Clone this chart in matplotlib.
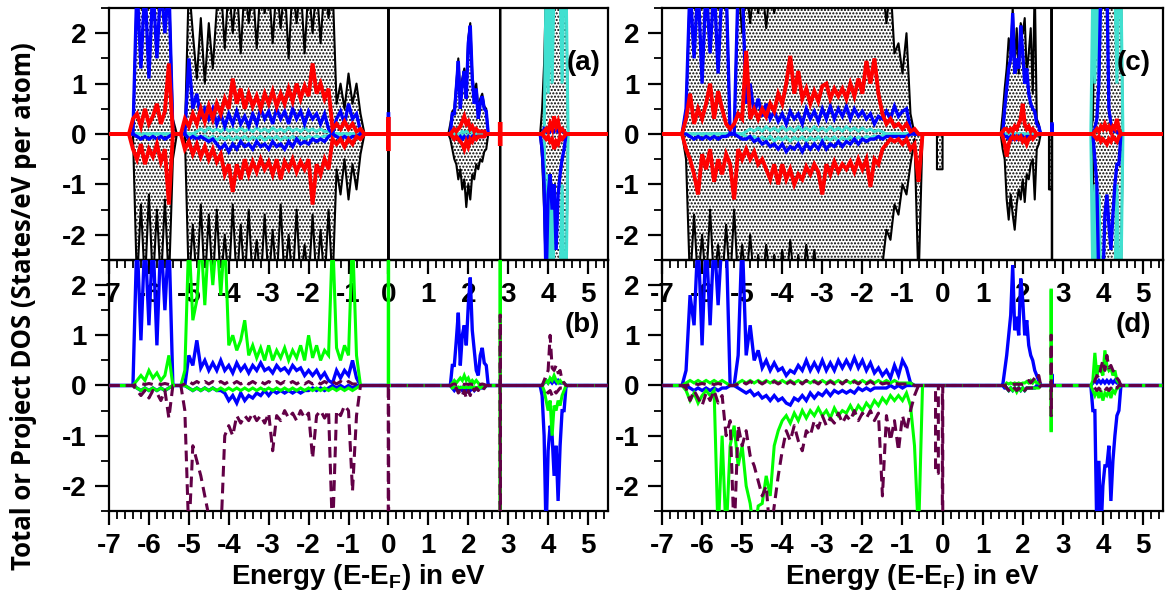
import numpy as np
import matplotlib
matplotlib.use("Agg")
import matplotlib.pyplot as plt
from matplotlib.ticker import MultipleLocator

plt.rcParams['font.family'] = ['Liberation Sans', 'DejaVu Sans']
plt.rcParams['font.weight'] = 'bold'
plt.rcParams['axes.unicode_minus'] = False
plt.rcParams['mathtext.default'] = 'regular'
plt.rcParams['hatch.linewidth'] = 1.0

# Energy sampling windows (eV, relative to E_F)
E_VAL = np.round(np.linspace(-6.5, -0.5, 61), 3)
E_MID = np.round(np.linspace(1.4, 2.6, 25), 3)
E_HI = np.round(np.linspace(3.7, 4.5, 17), 3)
E_GRID = np.concatenate([[-7.0], E_VAL, E_MID, E_HI, [5.5]])

# ---------------- panel (a): total / projected DOS, case 1 ----------------
a_total_up = [
    0, 0, 3, 3, 3, 3, 3, 3, 3, 3,
    3, 0.3, 0, 0, 0, 3, 2.0, 1.1, 2.3, 1.0,
    2.2, 1.3, 2.5, 3, 1.7, 3, 2.0, 3, 1.6, 3,
    2.2, 3, 1.7, 3, 2.4, 3, 1.8, 3, 2.1, 3,
    1.5, 3, 2.2, 3, 1.6, 3, 2.0, 3, 1.8, 3,
    2.3, 3, 0.6, 1.0, 0.5, 1.2, 0.6, 1.0, 0.4, 0,
    0,
    0, 0, 0, 0.2, 0.45, 0.5, 1.0, 1.5, 0.8, 1.1,
    1.3, 1.0, 1.9, 2.2, 1.2, 0.8, 1.0, 0.5, 0.7, 0.8,
    0.55, 0.5, 0, 0, 0,
    0, 0, 0, 0.5, 1.4, 3, 3, 3, 3, 3, 3, 3, 3, 3, 3, 3, 0,
]
a_total_dn = [
    0, 0, -3, -1.4, -3, -1.2, -3, -1.5, -3, -1.3,
    -3, -0.5, 0, 0, 0, -3, -1.8, -3, -1.4, -3,
    -1.6, -3, -1.5, -3, -2.0, -3, -1.4, -3, -1.8, -3,
    -1.5, -3, -2.1, -3, -1.6, -3, -1.9, -3, -1.4, -3,
    -2.0, -3, -1.5, -3, -2.2, -3, -1.6, -3, -1.9, -3,
    -1.5, -3, -0.7, -1.2, -0.5, -1.3, -0.6, -1.1, -0.4, 0,
    0,
    0, 0, 0, -0.1, -0.3, -0.5, -0.6, -0.9, -0.7, -1.1,
    -0.9, -1.45, -1.0, -1.3, -0.8, -0.9, -0.6, -0.7, -0.5, -0.55,
    -0.35, -0.3, 0, 0, 0,
    0, 0, 0, -0.5, -1.5, -3, -3, -3, -3, -3, -3, -3, -3, -3, -3, -3, 0,
]
a_blue_up = [
    0, 0, 3, 1.3, 3, 1.1, 3, 1.5, 3, 2.0,
    3, 0, 0, 0, 0, 1.5, 0.5, 0.8, 0.3, 0.5,
    0.3, 0.5, 0.2, 0.4, 0.15, 0.4, 0.2, 0.45, 0.2, 0.35,
    0.15, 0.4, 0.2, 0.5, 0.3, 0.45, 0.2, 0.5, 0.3, 0.45,
    0.2, 0.5, 0.3, 0.45, 0.2, 0.45, 0.3, 0.4, 0.2, 0.4,
    0.1, 0, 0.3, 0.45, 0.2, 0.6, 0.3, 0.4, 0.05, 0,
    0,
    0, 0, 0, 0, 0.4, 0.4, 0.9, 1.45, 0.5, 1.0,
    1.25, 0.7, 1.8, 2.15, 1.1, 0.6, 0.9, 0.3, 0.6, 0.75,
    0.5, 0.45, 0, 0, 0,
    0, 0, 0, 0, 0.1, 0.05, 0.1, 0.05, 0.1, 0.05, 0.1, 0.05, 0.1, 0.05, 0.05, 0, 0,
]
a_blue_dn = [
    0, 0, -0.05, -0.1, -0.05, -0.1, -0.05, -0.1, -0.05, -0.1,
    -0.05, 0, 0, 0, 0, -0.1, -0.05, -0.1, -0.05, -0.1,
    -0.15, -0.1, -0.2, -0.3, -0.2, -0.35, -0.2, -0.3, -0.15, -0.25,
    -0.2, -0.3, -0.15, -0.25, -0.2, -0.3, -0.15, -0.25, -0.2, -0.3,
    -0.15, -0.25, -0.1, -0.2, -0.15, -0.2, -0.1, -0.15, -0.1, -0.15,
    -0.05, 0, -0.05, -0.1, -0.05, -0.1, -0.05, -0.05, 0, 0,
    0,
    0, 0, 0, 0, -0.05, -0.1, -0.05, -0.1, -0.05, -0.1,
    -0.05, -0.1, -0.05, -0.1, -0.05, -0.1, -0.05, -0.05, -0.05, -0.05,
    -0.05, 0, 0, 0, 0,
    0, 0, 0, -0.3, -1.0, -3, -1.2, -0.8, -1.5, -1.0, -2.3, -1.2, -0.8, -0.5, -0.3, 0, 0,
]
a_cyan_up = [
    0, 0, 0, 0, 0, 0, 0, 0, 0, 0,
    0, 0, 0, 0, 0, 0, 0, 0.05, 0.1, 0.05,
    0.12, 0.06, 0.1, 0.05, 0.12, 0.06, 0.1, 0.05, 0.12, 0.06,
    0.1, 0.05, 0.12, 0.06, 0.1, 0.05, 0.12, 0.06, 0.1, 0.05,
    0.12, 0.06, 0.1, 0.05, 0.12, 0.06, 0.1, 0.05, 0.1, 0.05,
    0.05, 0, 0, 0, 0, 0, 0, 0, 0, 0,
    0,
    0, 0, 0, 0, 0, 0, 0, 0, 0, 0.05,
    0.03, 0.05, 0.03, 0.05, 0.03, 0.05, 0, 0, 0, 0,
    0, 0, 0, 0, 0,
    0, 0, 0, 0, 0, 3, 0.8, 3, 1.0, 3, 3, 3, 3, 1.0, 3, 3, 0,
]
a_cyan_dn = [
    0, 0, 0, 0, 0, 0, 0, 0, 0, 0,
    0, 0, 0, 0, 0, 0, 0, -0.05, -0.08, -0.04,
    -0.1, -0.05, -0.12, -0.06, -0.1, -0.05, -0.12, -0.06, -0.1, -0.05,
    -0.12, -0.06, -0.1, -0.05, -0.12, -0.06, -0.1, -0.05, -0.12, -0.06,
    -0.1, -0.05, -0.12, -0.06, -0.1, -0.05, -0.08, -0.04, -0.08, -0.04,
    -0.04, 0, 0, 0, 0, 0, 0, 0, 0, 0,
    0,
    0, 0, 0, 0, 0, 0, 0, 0, 0, -0.05,
    -0.03, -0.05, -0.03, -0.05, -0.03, -0.05, 0, 0, 0, 0,
    0, 0, 0, 0, 0,
    0, 0, 0, 0, 0, -3, -0.8, -3, -1.0, -3, -3, -3, -3, -1.0, -3, -3, 0,
]
a_red_up = [
    0, 0.3, 0.4, 0.15, 0.5, 0.2, 0.35, 0.6, 0.2, 0.45,
    1.4, 0, 0, 0, 0.3, 0.15, 0.4, 0.2, 0.5, 0.25,
    0.55, 0.3, 0.6, 0.4, 0.7, 0.5, 1.1, 0.6, 0.9, 0.5,
    0.8, 0.55, 0.75, 0.5, 0.8, 0.6, 0.85, 0.55, 0.8, 0.6,
    0.9, 0.65, 1.0, 0.7, 0.95, 0.75, 1.4, 0.8, 1.0, 0.7,
    0.9, 0.1, 0.2, 0.1, 0.25, 0.1, 0.2, 0.05, 0.1, 0,
    0,
    0, 0, 0, 0, 0.05, 0.1, 0.05, 0.1, 0.15, 0.25,
    0.35, 0.2, 0.25, 0.1, 0.15, 0.05, 0.1, 0.05, 0.05, 0.05,
    0.05, 0, 0, 0, 0,
    0, 0, 0, 0, 0.05, 0.1, 0.05, 0.2, 0.1, 0.35, 0.15, 0.25, 0.05, 0.1, 0.05, 0, 0,
]
a_red_dn = [
    0, -0.3, -0.5, -0.2, -0.6, -0.3, -0.45, -0.2, -0.55, -0.3,
    -1.4, 0, 0, 0, -0.3, -0.15, -0.4, -0.2, -0.45, -0.25,
    -0.5, -0.3, -0.55, -0.4, -0.8, -0.6, -1.15, -0.6, -0.9, -0.5,
    -0.8, -0.55, -0.75, -0.5, -0.7, -0.55, -0.8, -0.5, -0.9, -0.55,
    -0.7, -0.5, -0.75, -0.55, -0.7, -0.5, -1.4, -0.6, -0.8, -0.5,
    -0.7, -0.1, -0.2, -0.1, -0.25, -0.1, -0.2, -0.05, -0.1, 0,
    0,
    0, 0, 0, 0, -0.05, -0.1, -0.05, -0.1, -0.15, -0.2,
    -0.3, -0.15, -0.25, -0.1, -0.15, -0.05, -0.1, -0.05, -0.05, -0.05,
    -0.05, 0, 0, 0, 0,
    0, 0, 0, 0, -0.05, -0.1, -0.05, -0.15, -0.1, -0.3, -0.15, -0.2, -0.05, -0.1, -0.05, 0, 0,
]

# ---------------- panel (b): projected DOS, case 1 ----------------
b_blue_up = [
    0, 0, 3, 0.9, 3, 1.2, 3, 0.8, 3, 1.5,
    3, 0, 0, 0, 0, 0.6, 0.4, 0.9, 0.35, 0.5,
    0.3, 0.45, 0.3, 0.5, 0.3, 0.4, 0.25, 0.45, 0.3, 0.4,
    0.25, 0.4, 0.3, 0.45, 0.3, 0.35, 0.25, 0.4, 0.3, 0.35,
    0.25, 0.4, 0.3, 0.35, 0.2, 0.3, 0.2, 0.3, 0.15, 0.25,
    0.1, 0.05, 0.3, 0.15, 0.3, 0.2, 0.5, 0.15, 0, 0,
    0,
    0, 0, 0, 0, 0.4, 0.4, 0.9, 1.45, 0.4, 1.0,
    1.2, 0.8, 1.6, 2.15, 1.1, 0.7, 0.3, 0.2, 0.6, 0.75,
    0.45, 0.4, 0, 0, 0,
    0, 0, 0, 0, 0.05, 0.1, 0.05, 0.1, 0.05, 0.1, 0.05, 0.1, 0.05, 0.05, 0.05, 0, 0,
]
b_blue_dn = [
    0, 0, -0.05, -0.1, -0.05, -0.1, -0.05, -0.1, -0.05, -0.1,
    -0.05, 0, 0, 0, 0, -0.05, -0.1, -0.05, -0.1, -0.05,
    -0.1, -0.05, -0.1, -0.1, -0.15, -0.3, -0.2, -0.35, -0.15, -0.3,
    -0.2, -0.25, -0.15, -0.2, -0.1, -0.2, -0.1, -0.15, -0.1, -0.15,
    -0.1, -0.15, -0.1, -0.15, -0.1, -0.1, -0.05, -0.1, -0.05, -0.1,
    -0.05, 0, -0.05, 0, -0.05, 0, -0.05, 0, 0, 0,
    0,
    0, 0, 0, 0, -0.05, -0.1, -0.05, -0.1, -0.05, -0.1,
    -0.05, -0.1, -0.05, -0.1, -0.05, -0.1, -0.05, -0.05, -0.05, -0.05,
    -0.05, 0, 0, 0, 0,
    0, 0, 0, -0.2, -1.0, -3, -1.3, -0.8, -1.0, -1.8, -1.2, -2.3, -1.2, -0.5, -0.5, 0, 0,
]
b_green_up = [
    0, 0, 0.1, 0.2, 0.1, 0.3, 0.15, 0.25, 0.1, 0.2,
    0.6, 0, 0, 0, 0.3, 3, 1.3, 1.7, 3, 1.6,
    3, 2.0, 3, 1.8, 3, 0.8, 1.0, 0.7, 0.9, 1.3,
    0.6, 0.8, 0.55, 0.75, 0.5, 0.8, 0.5, 0.7, 0.55, 0.75,
    0.5, 0.7, 0.55, 0.8, 0.5, 1.0, 0.55, 0.8, 0.5, 0.7,
    0.6, 3, 0.75, 0.5, 0.8, 0.6, 3, 0.6, 0, 0,
    0,
    0, 0, 0, 0, 0.05, 0.1, 0.05, 0.1, 0.15, 0.1,
    0.2, 0.1, 0.15, 0.05, 0.1, 0.05, 0.1, 0.05, 0, 0,
    0, 0, 0, 0, 0,
    0, 0, 0, 0, 0.05, 0.1, 0.05, 0.15, 0.1, 0.2, 0.1, 0.05, 0.1, 0.05, 0.05, 0, 0,
]
b_green_dn = [
    0, 0, -0.05, -0.1, -0.05, -0.1, -0.05, -0.1, -0.05, -0.1,
    -0.05, 0, 0, 0, 0, -0.05, -0.1, -0.05, -0.1, -0.05,
    -0.1, -0.05, -0.1, -0.05, -0.1, -0.05, -0.1, -0.05, -0.1, -0.05,
    -0.1, -0.05, -0.1, -0.05, -0.1, -0.05, -0.1, -0.05, -0.1, -0.05,
    -0.1, -0.05, -0.1, -0.05, -0.1, -0.05, -0.1, -0.05, -0.1, -0.05,
    -0.1, -0.05, -0.1, -0.05, -0.1, -0.05, -0.1, -0.05, 0, 0,
    0,
    0, 0, 0, 0, -0.05, -0.03, -0.05, -0.03, -0.05, -0.03,
    -0.05, -0.03, -0.05, -0.03, -0.05, -0.03, -0.05, -0.03, -0.05, -0.03,
    -0.05, 0, 0, 0, 0,
    0, 0, 0, 0, -0.1, -0.3, -0.5, -0.3, -1.0, -0.4, -0.5, -0.3, -0.4, -0.2, -0.1, 0, 0,
]
b_purple_up = [
    0, 0, 0.02, 0.04, 0.02, 0.04, 0.02, 0.04, 0.02, 0.04,
    0.02, 0, 0, 0, 0.03, 0.08, 0.03, 0.08, 0.03, 0.08,
    0.03, 0.08, 0.03, 0.08, 0.03, 0.08, 0.03, 0.08, 0.03, 0.08,
    0.03, 0.08, 0.03, 0.08, 0.03, 0.08, 0.03, 0.08, 0.03, 0.08,
    0.03, 0.08, 0.03, 0.08, 0.03, 0.08, 0.03, 0.08, 0.03, 0.08,
    0.03, 0.08, 0.03, 0.08, 0.03, 0.08, 0.03, 0.03, 0, 0,
    0,
    0, 0, 0, 0, 0.02, 0.03, 0.02, 0.03, 0.02, 0.03,
    0.02, 0.03, 0.02, 0.03, 0.02, 0.03, 0.02, 0.03, 0.02, 0.03,
    0.02, 0, 0, 0, 0,
    0, 0, 0, 0, 0.1, 0.2, 0.3, 1.0, 0.35, 0.3, 0.4, 0.25, 0.3, 0.1, 0.05, 0, 0,
]
b_purple_dn = [
    0, 0, -0.1, -0.2, -0.1, -0.25, -0.1, -0.15, -0.3, -0.1,
    -0.65, 0, 0, 0, -0.5, -3, -1.2, -1.5, -1.8, -2.2,
    -2.6, -3, -3, -3, -1.0, -0.8, -1.0, -0.6, -0.75, -0.6,
    -0.7, -0.55, -0.7, -0.6, -0.75, -0.55, -1.3, -0.6, -0.7, -0.5,
    -0.65, -0.55, -0.7, -0.5, -0.65, -0.55, -1.45, -0.6, -0.5, -0.65,
    -0.5, -3, -0.5, -0.6, -0.4, -0.5, -2.1, -0.6, 0, 0,
    0,
    0, 0, 0, 0, -0.05, -0.1, -0.05, -0.15, -0.1, -0.2,
    -0.1, -0.25, -0.1, -0.2, -0.05, -0.1, -0.05, -0.1, -0.05, -0.1,
    -0.05, 0, 0, 0, 0,
    0, 0, 0, 0, -0.05, -0.1, -0.15, -0.1, -0.2, -0.1, -0.15, -0.1, -0.05, -0.05, 0, 0, 0,
]

# ---------------- panel (c): total / projected DOS, case 2 ----------------
c_total_up = [
    0, 0.5, 3, 3, 3, 3, 3, 3, 3, 3,
    3, 3, 0, 0, 3, 2.0, 3, 2.2, 3, 2.4,
    3, 2.1, 3, 2.4, 3, 3, 3, 3, 3, 3,
    3, 3, 3, 3, 3, 3, 3, 3, 3, 3,
    3, 3, 3, 3, 3, 3, 3, 3, 3, 3,
    3, 2.2, 3, 1.6, 1.8, 1.2, 2.0, 0.4, 0, 0,
    0,
    0, 0, 0.4, 0.9, 1.3, 1.9, 1.6, 2.5, 1.4, 2.1,
    1.2, 2.2, 2.0, 2.3, 1.2, 1.6, 2.1, 0.8, 3, 0.3,
    0.2, 0, 0, 0, 0,
    0, 0.3, 3, 3, 3, 3, 3, 3, 3, 3, 3, 3, 3, 3, 3, 3, 0,
]
c_total_dn = [
    0, -0.5, -3, -1.6, -3, -2.0, -3, -1.5, -3, -2.2,
    -3, -1.8, -3, -1.5, -3, -2.2, -3, -2.0, -3, -2.4,
    -3, -2.2, -3, -2.4, -3, -2.3, -3, -2.1, -3, -2.4,
    -3, -2.2, -3, -2.3, -3, -3, -3, -3, -3, -3,
    -3, -3, -3, -3, -3, -3, -3, -3, -3, -3,
    -2.6, -1.9, -2.1, -1.4, -1.6, -1.0, -1.2, -0.6, -0.1, -3,
    0,
    0, 0, -0.3, -0.5, -1.3, -1.7, -1.2, -1.6, -1.9, -1.4,
    -1.1, -1.3, -0.9, -1.35, -0.8, -0.9, -0.6, -0.5, -1.3, -0.3,
    -0.2, 0, 0, 0, 0,
    0, -0.5, -3, -3, -3, -3, -3, -3, -3, -3, -3, -3, -3, -3, -3, -3, 0,
]
c_blue_up = [
    0, 0.5, 3, 1.5, 3, 1.0, 3, 1.6, 3, 1.2,
    3, 3, 0, 0, 3, 3, 0.6, 1.0, 0.4, 0.7,
    0.35, 0.6, 0.3, 0.45, 0.25, 0.4, 0.2, 0.45, 0.3, 0.4,
    0.2, 0.5, 0.3, 0.45, 0.25, 0.5, 0.3, 0.55, 0.3, 0.5,
    0.35, 0.55, 0.3, 0.5, 0.35, 0.45, 0.3, 0.4, 0.2, 0.35,
    0.3, 0.45, 0.3, 0.55, 0.35, 0.45, 0.5, 0.1, 0, 0,
    0,
    0, 0, 0, 0.5, 0.9, 1.3, 1.5, 2.4, 1.2, 1.5,
    1.3, 2.15, 1.6, 1.0, 1.3, 0.8, 0.6, 0.5, 0.45, 0.2,
    0.15, 0, 0, 0, 0,
    0, 0, 0.1, 0.3, 1.0, 3, 3, 3, 3, 0.5, 0.2, 0.1, 0.05, 0.05, 0, 0, 0,
]
c_blue_dn = [
    0, 0, -0.05, -0.1, -0.05, -0.1, -0.05, -0.1, -0.05, -0.1,
    -0.05, -0.05, 0, 0, -0.05, -0.1, -0.1, -0.05, -0.15, -0.1,
    -0.2, -0.15, -0.25, -0.2, -0.3, -0.2, -0.35, -0.25, -0.3, -0.2,
    -0.35, -0.2, -0.3, -0.2, -0.3, -0.15, -0.3, -0.2, -0.25, -0.15,
    -0.25, -0.15, -0.2, -0.1, -0.2, -0.1, -0.15, -0.1, -0.1, -0.05,
    -0.1, -0.05, -0.05, -0.05, -0.05, -0.05, -0.05, 0, 0, 0,
    0,
    0, 0, 0, -0.05, -0.05, -0.1, -0.05, -0.1, -0.05, -0.1,
    -0.05, -0.1, -0.05, -0.1, -0.05, -0.05, -0.05, -0.05, -0.05, 0,
    0, 0, 0, 0, 0,
    0, 0, -0.5, -1.0, -3, -3, -3, -1.6, -1.2, -1.8, -2.3, -1.6, -1.0, -0.6, -0.6, 0, 0,
]
c_cyan_up = [
    0, 0, 0, 0, 0, 0, 0, 0, 0, 0,
    0, 0, 0, 0, 0, 0, 0.05, 0.1, 0.06, 0.12,
    0.06, 0.14, 0.07, 0.12, 0.06, 0.14, 0.07, 0.12, 0.06, 0.14,
    0.07, 0.12, 0.06, 0.14, 0.07, 0.12, 0.06, 0.14, 0.07, 0.12,
    0.06, 0.14, 0.07, 0.12, 0.06, 0.12, 0.06, 0.1, 0.05, 0.08,
    0.04, 0, 0, 0, 0, 0, 0, 0, 0, 0,
    0,
    0, 0, 0, 0, 0, 0, 0, 0, 0, 0,
    0, 0, 0, 0, 0, 0, 0, 0, 0, 0,
    0, 0, 0, 0, 0,
    0, 3, 1.0, 3, 1.2, 3, 3, 3, 3, 3, 3, 3, 3, 1.0, 3, 3, 0,
]
c_cyan_dn = [
    0, 0, 0, 0, 0, 0, 0, 0, 0, 0,
    0, 0, 0, 0, 0, 0, -0.05, -0.08, -0.05, -0.12,
    -0.06, -0.12, -0.05, -0.14, -0.07, -0.12, -0.06, -0.14, -0.07, -0.12,
    -0.06, -0.14, -0.07, -0.12, -0.06, -0.14, -0.07, -0.12, -0.06, -0.14,
    -0.07, -0.12, -0.06, -0.12, -0.06, -0.1, -0.05, -0.08, -0.04, -0.06,
    -0.03, 0, 0, 0, 0, 0, 0, 0, 0, 0,
    0,
    0, 0, 0, 0, 0, 0, 0, 0, 0, 0,
    0, 0, 0, 0, 0, 0, 0, 0, 0, 0,
    0, 0, 0, 0, 0,
    0, -3, -1.0, -3, -1.2, -3, -3, -3, -3, -3, -3, -3, -3, -1.0, -3, -3, 0,
]
c_red_up = [
    0, 0.3, 0.8, 0.2, 0.5, 0.3, 0.6, 1.0, 0.3, 0.85,
    0.5, 0.2, 0.1, 0.2, 0.4, 0.3, 1.65, 0.3, 0.5, 0.3,
    0.5, 0.35, 0.6, 0.45, 0.8, 0.6, 1.0, 1.55, 0.8, 1.25,
    0.7, 0.9, 0.6, 0.85, 0.65, 0.95, 1.0, 0.7, 0.9, 0.75,
    0.9, 0.7, 1.0, 0.75, 1.1, 0.8, 1.45, 1.0, 1.5, 0.8,
    0.4, 0.2, 0.3, 0.15, 0.2, 0.1, 0.2, 0.05, 0.1, 0,
    0,
    0, 0, 0.05, 0.1, 0.1, 0.05, 0.1, 0.05, 0.15, 0.1,
    0.2, 0.3, 0.6, 0.2, 0.1, 0.15, 0.05, 0.1, 0.05, 0,
    0, 0, 0, 0, 0,
    0, 0, 0.05, 0.1, 0.05, 0.15, 0.1, 0.2, 0.1, 0.15, 0.05, 0.15, 0.1, 0.3, 0.1, 0, 0,
]
c_red_dn = [
    0, -0.3, -0.5, -0.8, -1.2, -0.4, -0.7, -0.3, -0.95, -0.5,
    -0.8, -0.4, -0.6, -1.3, -0.3, -0.5, -0.3, -0.5, -0.35, -0.6,
    -0.5, -0.7, -0.9, -0.6, -1.0, -0.6, -0.9, -0.7, -1.0, -0.8,
    -0.9, -0.65, -0.8, -0.6, -0.75, -1.2, -0.6, -0.8, -0.55, -0.75,
    -0.6, -0.7, -0.55, -0.75, -0.5, -0.7, -0.5, -1.05, -0.5, -0.6,
    -0.3, -0.2, -0.1, -0.15, -0.1, -0.2, -0.1, -0.3, -0.2, -0.95,
    0,
    0, 0, -0.05, -0.2, -0.45, -0.2, -0.1, -0.05, -0.1, -0.05,
    -0.1, -0.05, -0.15, -0.1, -0.2, -0.1, -0.05, -0.1, -0.05, 0,
    0, 0, 0, 0, 0,
    0, 0, -0.05, -0.1, -0.05, -0.15, -0.1, -0.15, -0.2, -0.1, -0.15, -0.05, -0.1, -0.15, -0.05, 0, 0,
]

# ---------------- panel (d): projected DOS, case 2 ----------------
d_blue_up = [
    0, 0.3, 1.8, 1.2, 3, 0.8, 3, 1.2, 3, 1.6,
    3, 3, 0, 0, 0.6, 3, 0.6, 1.2, 0.5, 0.7,
    0.35, 0.5, 0.3, 0.45, 0.3, 0.35, 0.2, 0.3, 0.25, 0.4,
    0.3, 0.5, 0.3, 0.45, 0.3, 0.5, 0.3, 0.45, 0.3, 0.5,
    0.35, 0.5, 0.35, 0.55, 0.35, 0.5, 0.3, 0.45, 0.25, 0.35,
    0.2, 0.3, 0.15, 0.4, 0.2, 0.5, 0.35, 0.05, 0, 0,
    0,
    0, 0, 0, 0.3, 0.6, 1.0, 1.4, 2.4, 1.1, 1.37,
    1.0, 2.13, 1.7, 1.0, 1.3, 0.8, 0.6, 0.5, 0.3, 0.2,
    0.1, 0, 0, 0, 0,
    0, 0.05, 0.1, 0.05, 0.1, 0.05, 0.1, 0.05, 0.1, 0.05, 0.1, 0.05, 0.1, 0.05, 0.05, 0, 0,
]
d_blue_dn = [
    0, 0, -0.05, -0.1, -0.05, -0.1, -0.05, -0.1, -0.05, -0.1,
    -0.05, -0.05, 0, 0, -0.05, -0.1, -0.15, -0.1, -0.2, -0.15,
    -0.25, -0.2, -0.3, -0.2, -0.3, -0.25, -0.35, -0.39, -0.25, -0.3,
    -0.2, -0.3, -0.15, -0.25, -0.15, -0.2, -0.1, -0.2, -0.1, -0.15,
    -0.1, -0.15, -0.1, -0.15, -0.05, -0.1, -0.05, -0.1, -0.05, -0.05,
    -0.05, -0.05, 0, -0.05, 0, -0.05, 0, 0, 0, 0,
    0,
    0, 0, 0, -0.05, -0.05, -0.1, -0.05, -0.1, -0.05, -0.1,
    -0.05, -0.1, -0.05, -0.1, -0.05, -0.05, -0.05, -0.05, -0.05, 0,
    0, 0, 0, 0, 0,
    0, -0.5, -0.5, -3, -1.5, -3, -2.0, -1.6, -1.6, -1.2, -2.3, -1.5, -1.0, -0.6, -0.5, 0, 0,
]
d_green_up = [
    0, 0.05, 0.1, 0.05, 0.1, 0.05, 0.1, 0.05, 0.1, 0.05,
    0.1, 0.05, 0, 0, 0.05, 0.1, 0.05, 0.1, 0.05, 0.1,
    0.05, 0.1, 0.05, 0.1, 0.05, 0.1, 0.05, 0.1, 0.05, 0.1,
    0.05, 0.1, 0.05, 0.1, 0.05, 0.1, 0.05, 0.1, 0.05, 0.1,
    0.05, 0.1, 0.05, 0.1, 0.05, 0.1, 0.05, 0.1, 0.05, 0.1,
    0.05, 0.1, 0.05, 0.1, 0.05, 0.05, 0.05, 0.05, 0, 0,
    0,
    0, 0, 0, 0, 0.05, 0.03, 0.05, 0.03, 0.05, 0.03,
    0.05, 0.03, 0.05, 0.05, 0.08, 0.05, 0.1, 0.05, 0.1, 0.05,
    0.05, 0, 0, 0, 0,
    0, 0.1, 0.65, 0.2, 0.4, 0.3, 0.2, 0.7, 0.4, 0.3, 0.35, 0.2, 0.3, 0.1, 0.05, 0, 0,
]
d_green_dn = [
    0, -0.1, -0.3, -0.15, -0.35, -0.2, -0.1, -0.2, -0.1, -3,
    -1.0, -3, -1.2, -0.8, -1.6, -1.2, -2.0, -2.35, -3, -2.4,
    -2.35, -1.8, -2.2, -1.2, -0.9, -0.7, -0.6, -0.75, -0.55, -0.7,
    -0.5, -0.65, -0.5, -0.6, -0.45, -0.6, -0.5, -0.65, -0.45, -0.6,
    -0.5, -0.55, -0.4, -0.55, -0.4, -0.5, -0.35, -0.45, -0.3, -0.4,
    -0.25, -0.35, -0.2, -0.3, -0.2, -0.3, -0.15, -0.4, -1.2, -3,
    0,
    0, 0, 0, 0, -0.05, -0.1, -0.05, -0.1, -0.05, -0.13,
    -0.05, -0.1, -0.05, -0.1, -0.05, -0.05, -0.05, -0.05, -0.05, -0.05,
    -0.05, 0, 0, 0, 0,
    0, -0.1, -0.2, -0.1, -0.25, -0.1, -0.3, -0.15, -0.2, -0.1, -0.25, -0.1, -0.15, -0.05, -0.05, 0, 0,
]
d_purple_up = [
    0, 0, 0.02, 0.04, 0.02, 0.04, 0.02, 0.04, 0.02, 0.04,
    0.02, 0.02, 0, 0, 0.03, 0.08, 0.03, 0.08, 0.03, 0.08,
    0.03, 0.08, 0.03, 0.08, 0.03, 0.08, 0.03, 0.08, 0.03, 0.1,
    0.03, 0.1, 0.03, 0.08, 0.03, 0.1, 0.03, 0.08, 0.03, 0.1,
    0.03, 0.1, 0.03, 0.08, 0.03, 0.1, 0.03, 0.08, 0.03, 0.08,
    0.03, 0.05, 0.03, 0.05, 0.03, 0.03, 0.03, 0.03, 0, 0,
    0,
    0, 0, 0, 0, 0.02, 0.03, 0.02, 0.03, 0.02, 0.03,
    0.02, 0.03, 0.02, 0.03, 0.05, 0.1, 0.05, 0.1, 0.15, 0.1,
    0.2, 0, 0, 0, 0,
    0, 0, 0.1, 0.2, 0.15, 0.35, 0.5, 0.3, 0.6, 0.35, 0.4, 0.3, 0.25, 0.15, 0.1, 0, 0,
]
d_purple_dn = [
    0, -0.05, -0.3, -0.1, -0.25, -0.4, -0.15, -0.3, -0.1, -0.35,
    -0.2, -1.0, -0.7, -3, -0.8, -1.2, -0.9, -1.4, -1.6, -1.9,
    -2.2, -2.0, -3, -2.4, -1.8, -1.3, -0.9, -1.1, -0.8, -1.1,
    -1.3, -0.9, -1.0, -0.7, -0.85, -0.6, -0.8, -0.65, -0.75, -0.55,
    -0.75, -0.6, -0.7, -0.5, -0.7, -0.55, -0.65, -0.5, -0.7, -0.55,
    -2.2, -0.6, -1.1, -0.7, -1.3, -0.6, -0.9, -0.5, -0.2, 0,
    0,
    0, 0, 0, 0, -0.05, -0.1, -0.05, -0.1, -0.05, -0.1,
    -0.05, -0.1, -0.05, -0.1, -0.05, -0.05, -0.05, -0.05, -0.05, -0.05,
    -0.05, 0, 0, 0, 0,
    0, 0, -0.05, -0.1, -0.05, -0.1, -0.05, -0.1, -0.05, -0.1, -0.05, -0.1, -0.05, -0.05, 0, 0, 0,
]

# Narrow states outside the sampled windows: (centre eV, height, width eV)
a_total_up_peaks = [(0.0, 3, 0.01), (2.8, 3, 0.01)]
a_total_dn_peaks = [(0.0, -3, 0.01), (2.8, -3, 0.01)]
a_blue_up_peaks = [(0.0, 0.4, 0.01)]
a_red_up_peaks = [(0.0, 0.3, 0.02), (2.8, 0.2, 0.02)]
a_red_dn_peaks = [(0.0, -0.3, 0.02), (2.8, -0.2, 0.02)]
b_green_up_peaks = [(0.0, 3, 0.01), (2.8, 3, 0.01)]
b_green_dn_peaks = [(2.8, -3, 0.01)]
b_purple_up_peaks = [(2.8, 1.4, 0.01)]
b_purple_dn_peaks = [(0.0, -3, 0.01), (2.8, -3, 0.01)]
c_total_up_peaks = [(2.72, 3, 0.01)]
c_total_dn_peaks = [(-0.07, -0.7, 0.14), (2.69, -1.1, 0.07), (2.73, -3, 0.01)]
c_blue_up_peaks = [(2.73, 0.2, 0.01)]
d_blue_up_peaks = [(2.73, 0.2, 0.01)]
d_green_up_peaks = [(2.71, 1.9, 0.01)]
d_green_dn_peaks = [(2.71, -0.9, 0.01)]
d_purple_up_peaks = [(2.71, 1.0, 0.01)]
d_purple_dn_peaks = [(-0.14, -1.75, 0.07), (0.0, -3, 0.01), (2.71, -0.6, 0.01)]

BLUE = '#0000ff'
RED = '#ff0000'
CYAN = '#40e0d0'
GREEN = '#00ff00'
PURPLE = '#620046'
DASH = (0, (3.5, 2))
FS = 20


def trace(values, peaks=()):
    e = list(E_GRID)
    v = [0.0] + list(values) + [0.0]
    assert len(v) == len(e), (len(v), len(e))
    for centre, height, width in peaks:
        lo, hi = centre - width / 2, centre + width / 2
        e += [lo, lo, hi, hi]
        v += [0.0, height, height, 0.0]
    order = np.argsort(np.asarray(e), kind='stable')
    return np.asarray(e)[order], np.asarray(v, dtype=float)[order]


def line(ax, values, peaks=(), **kw):
    e, v = trace(values, peaks)
    ax.plot(e, v, solid_joinstyle='miter', **kw)


def total(ax, values, peaks=()):
    e, v = trace(values, peaks)
    ax.fill_between(e, 0, v, facecolor='none', edgecolor='black',
                    hatch='.....', linewidth=0, zorder=1)
    ax.plot(e, v, color='black', lw=1.5, zorder=2)


fig = plt.figure(figsize=(11.67, 5.98), dpi=100)
W, H = 1167, 598
ax_a = fig.add_axes([109 / W, 1 - 260 / H, 499 / W, 252 / H])
ax_c = fig.add_axes([662 / W, 1 - 260 / H, 501 / W, 252 / H])
ax_b = fig.add_axes([109 / W, 1 - 511 / H, 499 / W, 251 / H])
ax_d = fig.add_axes([662 / W, 1 - 511 / H, 501 / W, 251 / H])

# (a)
total(ax_a, a_total_up, a_total_up_peaks)
total(ax_a, a_total_dn, a_total_dn_peaks)
line(ax_a, a_cyan_up, color=CYAN, lw=2.2, zorder=2.5)
line(ax_a, a_cyan_dn, color=CYAN, lw=2.2, zorder=2.5)
line(ax_a, a_blue_up, a_blue_up_peaks, color=BLUE, lw=2.4, zorder=3)
line(ax_a, a_blue_dn, color=BLUE, lw=2.4, zorder=3)
line(ax_a, a_red_up, a_red_up_peaks, color=RED, lw=2.8, zorder=5)
line(ax_a, a_red_dn, a_red_dn_peaks, color=RED, lw=2.8, zorder=5)

# (c)
total(ax_c, c_total_up, c_total_up_peaks)
total(ax_c, c_total_dn, c_total_dn_peaks)
line(ax_c, c_cyan_up, color=CYAN, lw=2.2, zorder=2.5)
line(ax_c, c_cyan_dn, color=CYAN, lw=2.2, zorder=2.5)
line(ax_c, c_blue_up, c_blue_up_peaks, color=BLUE, lw=2.4, zorder=3)
line(ax_c, c_blue_dn, color=BLUE, lw=2.4, zorder=3)
line(ax_c, c_red_up, color=RED, lw=2.8, zorder=5)
line(ax_c, c_red_dn, color=RED, lw=2.8, zorder=5)

# (b)
line(ax_b, b_blue_up, color=BLUE, lw=2.4, zorder=3)
line(ax_b, b_blue_dn, color=BLUE, lw=2.4, zorder=3)
line(ax_b, b_green_up, b_green_up_peaks, color=GREEN, lw=2.2, zorder=4)
line(ax_b, b_green_dn, b_green_dn_peaks, color=GREEN, lw=2.2, zorder=4)
line(ax_b, b_purple_up, b_purple_up_peaks, color=PURPLE, lw=2.2, ls=DASH, zorder=5)
line(ax_b, b_purple_dn, b_purple_dn_peaks, color=PURPLE, lw=2.2, ls=DASH, zorder=5)

# (d)
line(ax_d, d_blue_up, d_blue_up_peaks, color=BLUE, lw=2.4, zorder=3)
line(ax_d, d_blue_dn, color=BLUE, lw=2.4, zorder=3)
line(ax_d, d_green_up, d_green_up_peaks, color=GREEN, lw=2.2, zorder=4)
line(ax_d, d_green_dn, d_green_dn_peaks, color=GREEN, lw=2.2, zorder=4)
line(ax_d, d_purple_up, d_purple_up_peaks, color=PURPLE, lw=2.2, ls=DASH, zorder=5)
line(ax_d, d_purple_dn, d_purple_dn_peaks, color=PURPLE, lw=2.2, ls=DASH, zorder=5)

for ax in (ax_a, ax_b, ax_c, ax_d):
    ax.set_xlim(-7, 5.5)
    ax.set_ylim(-2.5, 2.5)
    ax.xaxis.set_major_locator(MultipleLocator(1))
    ax.xaxis.set_minor_locator(MultipleLocator(0.2))
    ax.yaxis.set_major_locator(MultipleLocator(1))
    ax.yaxis.set_minor_locator(MultipleLocator(0.5))
    ax.tick_params(which='major', direction='out', length=10, width=1.6,
                   labelsize=FS, pad=6, top=False, right=False)
    ax.tick_params(which='minor', direction='out', length=6, width=1.3,
                   top=False, right=False)
    for s in ax.spines.values():
        s.set_linewidth(1.6)

for ax in (ax_b, ax_d):
    ax.set_facecolor('none')
    ax.set_xlabel(r'Energy (E-E$_F$) in eV', fontsize=FS, fontweight='bold', labelpad=2)

ax_a.text(5.3, 1.4, '(a)', ha='right', va='center', fontsize=FS, fontweight='bold', zorder=10)
ax_b.text(5.3, 1.2, '(b)', ha='right', va='center', fontsize=FS, fontweight='bold', zorder=10)
ax_c.text(5.2, 1.4, '(c)', ha='right', va='center', fontsize=FS, fontweight='bold', zorder=10)
ax_d.text(5.2, 1.2, '(d)', ha='right', va='center', fontsize=FS, fontweight='bold', zorder=10)

fig.text(0.02, 0.488, 'Total or Project DOS (States/eV per atom)', rotation=90,
         ha='center', va='center', fontsize=18.5, fontweight='bold',
         family=['Open Sans', 'DejaVu Sans'])

fig.savefig('out.png', dpi=100)
